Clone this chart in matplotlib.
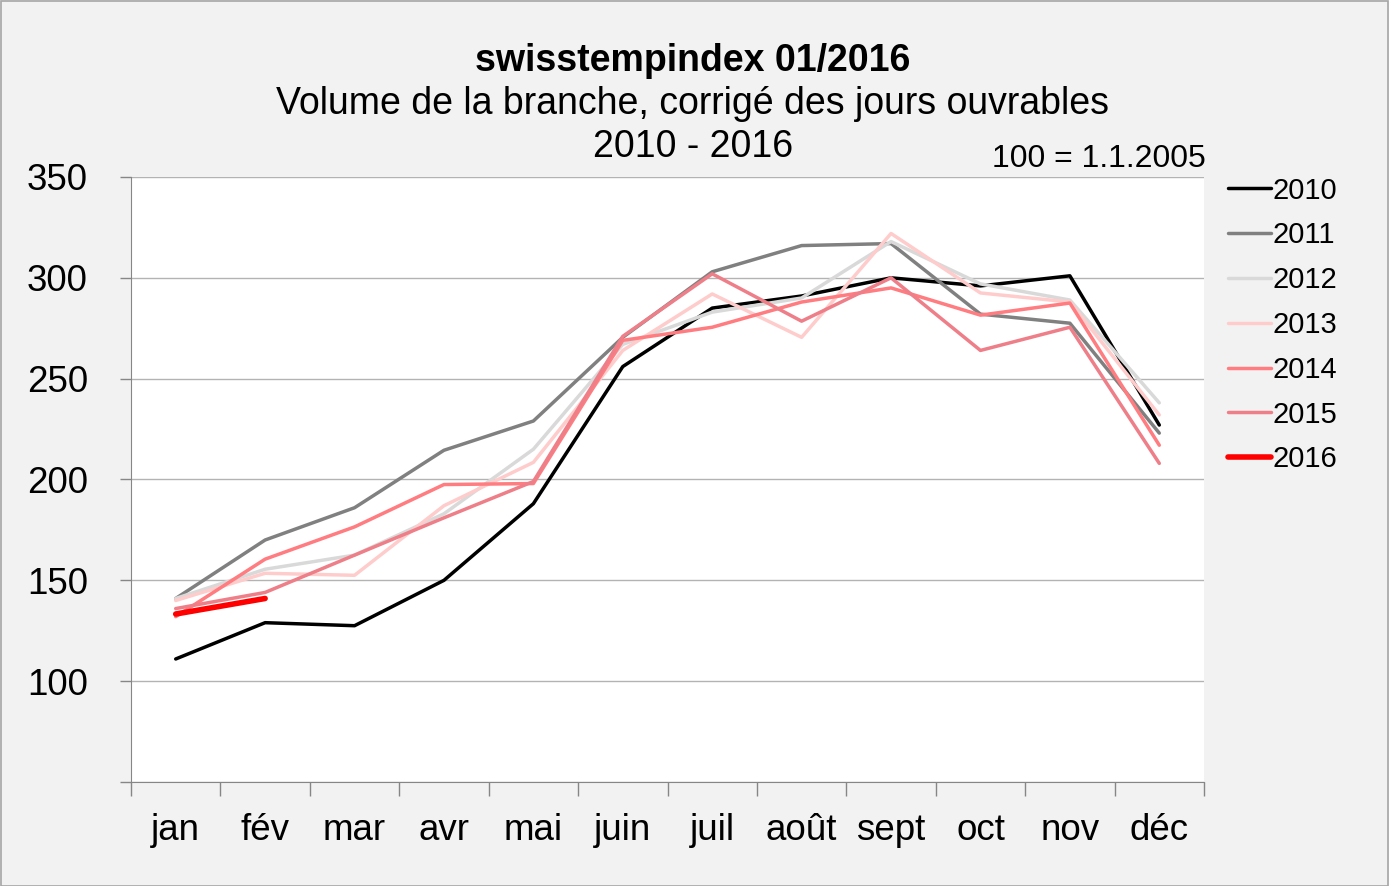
import numpy as np
import matplotlib
matplotlib.use("Agg")
import matplotlib.pyplot as plt
from matplotlib.patches import Rectangle

plt.rcParams["font.family"] = ["Liberation Sans", "DejaVu Sans"]

MONTHS = ["jan", "fév", "mar", "avr", "mai", "juin", "juil", "août", "sept", "oct", "nov", "déc"]
YEARS = ["2010", "2011", "2012", "2013", "2014", "2015", "2016"]

v2010 = [111, 129, 127.5, 150, 188, 256, 285, 291, 300, 296, 301, 227]
v2011 = [141, 170, 186, 214.5, 229, 270.5, 303, 316, 317, 282, 277.5, 223]
v2012 = [141, 155.5, 162.5, 183, 215, 267, 283, 290, 318, 297, 289, 238]
v2013 = [140, 153.5, 152.5, 187, 208.5, 264, 292, 270.5, 322, 292.5, 288, 232]
v2014 = [132, 160.5, 176.5, 197.5, 198, 269, 275.5, 288, 295, 281.5, 287.5, 217]
v2015 = [136, 144, 162.5, 181, 199, 271, 302, 278.5, 300, 264, 275.5, 208]
v2016 = [133.3, 141]

SERIES = [v2010, v2011, v2012, v2013, v2014, v2015, v2016]
COLORS = ["#000000", "#808080", "#d9d9d9", "#ffcccc", "#ff7c80", "#ee7f88", "#ff0000"]
WIDTHS = [2.5, 2.5, 2.5, 2.5, 2.5, 2.5, 4.0]

W, H = 1389, 886
fig = plt.figure(figsize=(W / 100, H / 100), dpi=100, facecolor="#f2f2f2")
fig.patches.append(Rectangle((0.5 / W, 0.5 / H), 1 - 1.5 / W, 1 - 1.5 / H, transform=fig.transFigure,
                             fill=False, edgecolor="#a6a6a6", lw=1.2))

ax = fig.add_axes([131 / W, (H - 782) / H, (1204 - 131) / W, (782 - 177) / H])
ax.set_facecolor("white")

x = np.arange(len(MONTHS))
for vals, c, lw, lab in zip(SERIES, COLORS, WIDTHS, YEARS):
    ax.plot(x[:len(vals)], vals, color=c, lw=lw, label=lab, solid_capstyle="round")

ax.set_xlim(-0.5, len(MONTHS) - 0.5)
ax.set_ylim(50, 350)
ax.set_yticks(np.arange(50, 351, 50))
ax.set_yticklabels([""] + [str(v) for v in range(100, 351, 50)])
ax.yaxis.grid(True, color="#b3b3b3", lw=1)
ax.set_axisbelow(True)
ax.set_xticks(x)
ax.set_xticklabels(MONTHS)
ax.set_xticks(np.arange(-0.5, len(MONTHS), 1), minor=True)
ax.tick_params(axis="x", which="major", length=0, pad=22, labelsize=26.5)
ax.tick_params(axis="x", which="minor", length=10, color="#868686", width=1)
ax.tick_params(axis="y", length=8, color="#868686", width=1, pad=23, labelsize=26.5)
for s in ["top", "right"]:
    ax.spines[s].set_visible(False)
for s in ["left", "bottom"]:
    ax.spines[s].set_color("#868686")

fig.text(693 / W, 1 - 61 / H, "swisstempindex 01/2016", ha="center", va="center",
         fontsize=27, fontweight="bold")
fig.text(693 / W, 1 - 104 / H, "Volume de la branche, corrigé des jours ouvrables",
         ha="center", va="center", fontsize=27)
fig.text(693 / W, 1 - 147 / H, "2010 - 2016", ha="center", va="center", fontsize=27)
fig.text(1206 / W, 1 - 159 / H, "100 = 1.1.2005", ha="right", va="center", fontsize=23)

leg = fig.legend(loc="upper left", bbox_to_anchor=(1216 / W, 1 - 165 / H), frameon=False,
                 fontsize=21, handlelength=1.47, handletextpad=0.05, labelspacing=0.575,
                 borderaxespad=0)

fig.savefig("out.png", dpi=100, facecolor=fig.get_facecolor())
